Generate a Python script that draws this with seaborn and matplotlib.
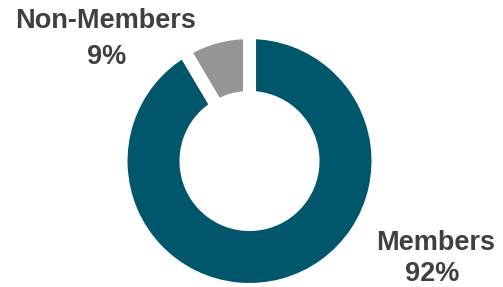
import matplotlib
matplotlib.use("Agg")
import matplotlib.pyplot as plt
import seaborn as sns

# share of attendees (slice sizes) and the labels printed next to them
groups = ["Members", "Non-Members"]
shares = [91.5, 8.5]
pct_labels = ["92%", "9%"]
colors = ["#00566B", "#959595"]

sns.set_theme(style="white")
plt.rcParams["font.family"] = ["Liberation Sans", "DejaVu Sans"]

fig = plt.figure(figsize=(5.03, 2.87), dpi=100)
ax = fig.add_axes([0, 0, 1, 1])

ax.pie(
    shares,
    colors=colors,
    startangle=90,
    counterclock=False,
    center=(249.5, 126),
    radius=128.5,
    wedgeprops=dict(width=65, edgecolor="white", linewidth=9.4),
    frame=True,
)
ax.set_xlim(0, 503)
ax.set_ylim(0, 287)
ax.set_aspect("equal")
ax.axis("off")

text_kw = dict(ha="center", va="center", fontsize=19.5, fontweight="bold", color="#404040")
ax.text(106, 266, groups[1], **text_kw)
ax.text(107, 230, pct_labels[1], **text_kw)
ax.text(436, 44, groups[0], **text_kw)
ax.text(432, 13, pct_labels[0], **text_kw)

fig.savefig("out.png", dpi=100)
